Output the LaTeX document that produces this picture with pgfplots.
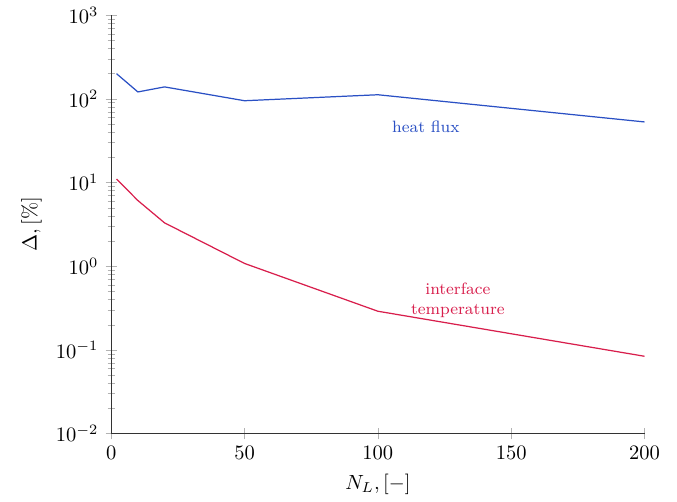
\documentclass[border=0pt]{standalone}
\usepackage{pgfplots}
\pgfplotsset{compat=1.18}
\definecolor{fluxblue}{HTML}{2A50C4}
\definecolor{tempred}{HTML}{D81E4C}

\begin{document}
\begin{tikzpicture}
\begin{axis}[
  scale only axis, width=260pt, height=204pt,
  ymode=log, ymin=1e-2, ymax=1e3,
  xmin=0, xmax=200, xtick={0,50,100,150,200},
  axis lines=left, axis line style={-, black!80},
  tick style={gray!60}, minor tick style={gray!60},
  major tick length=5.5pt, minor tick length=3.5pt,
  xtick pos=bottom, ytick pos=left,
  xlabel={$N_L, [-]$}, ylabel={$\Delta, [\%]$},
  log basis y=10]
\addplot[fluxblue, semithick] coordinates {
  (2,200) (10,121) (20,139) (50,95) (100,112) (200,53)};
\addplot[tempred, semithick] coordinates {
  (2,11) (10,6.1) (20,3.3) (50,1.08) (100,0.29) (200,0.084)};
\node[fluxblue, font=\footnotesize] at (axis cs:118,47) {heat flux};
\node[tempred, font=\footnotesize, align=center, inner sep=1pt] at (axis cs:130,0.39) {interface\\temperature};
\end{axis}
\path (current bounding box.south west) ++(-7pt,0) coordinate (padl);
\path (current bounding box.north east) ++(5pt,0) coordinate (padr);
\path (padl) (padr);
\end{tikzpicture}
\end{document}
